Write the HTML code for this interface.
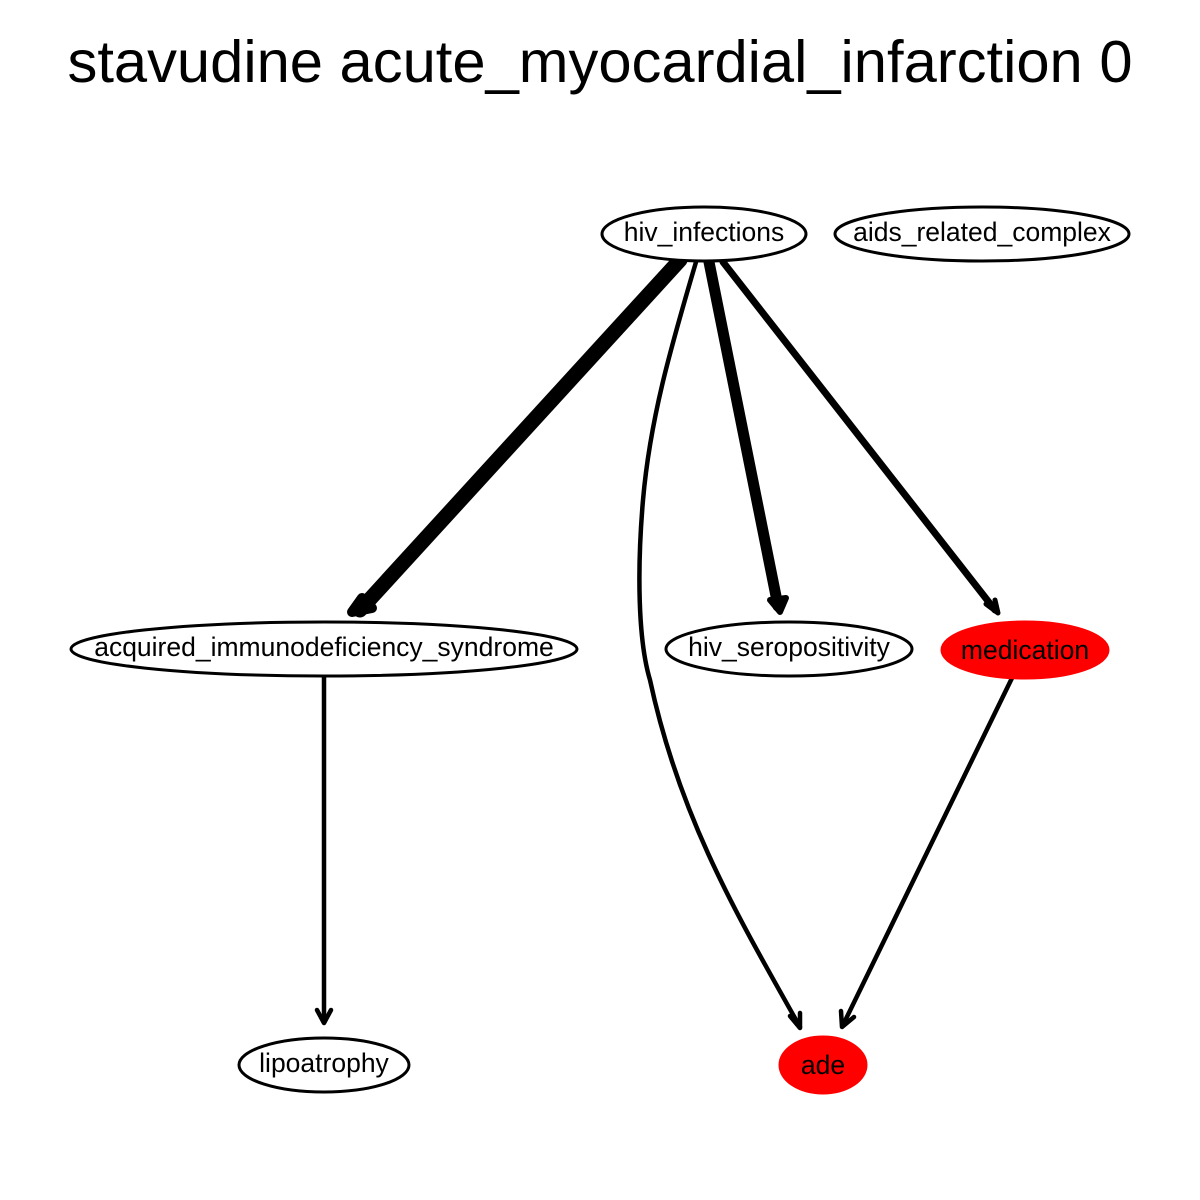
<!DOCTYPE html>
<html><head><style>body{margin:0;background:#fff}</style></head><body>
<svg width="1200" height="1200" xmlns="http://www.w3.org/2000/svg" style="display:block">
<rect width="1200" height="1200" fill="#fff"/>
<text x="600" y="82" text-anchor="middle" font-family="Liberation Sans, sans-serif" font-size="59.7">stavudine acute_myocardial_infarction 0</text>
<g stroke="#000" fill="none" stroke-linecap="round" stroke-linejoin="round">
<line x1="680" y1="260" x2="360" y2="610" stroke-width="15"/>
<path d="M352,612 L362,598 L372,608 Z" stroke-width="10" fill="#000"/>
<line x1="709" y1="262" x2="778" y2="606" stroke-width="11"/>
<path d="M770,600 L780,612 L786,598 Z" stroke-width="6" fill="#000"/>
<line x1="723" y1="262" x2="995" y2="610" stroke-width="7"/>
<path d="M986,604 L998,613 L995,600" stroke-width="5"/>
<path d="M696,262 C670,350 650,420 643,500 C637,570 638,640 650,680 C680,820 740,920 800,1027" stroke-width="4.5"/>
<path d="M790,1016 L800,1028 L800,1013" stroke-width="4.5"/>
<line x1="324" y1="677" x2="324" y2="1022" stroke-width="4.5"/>
<path d="M317,1010 L324,1023 L331,1010" stroke-width="4.5"/>
<line x1="1012" y1="678" x2="843" y2="1025" stroke-width="4.5"/>
<path d="M841,1011 L842,1027 L854,1017" stroke-width="4.5"/>
</g>
<g stroke="#000" stroke-width="3">
<ellipse cx="704" cy="234" rx="102" ry="27" fill="#fff"/>
<ellipse cx="982" cy="234" rx="147" ry="27" fill="#fff"/>
<ellipse cx="324" cy="649" rx="253" ry="27" fill="#fff"/>
<ellipse cx="789" cy="649" rx="123" ry="27" fill="#fff"/>
<ellipse cx="1025" cy="650" rx="83" ry="28" fill="#f00" stroke="#f00"/>
<ellipse cx="324" cy="1065" rx="85" ry="27" fill="#fff"/>
<ellipse cx="823" cy="1065" rx="43" ry="28" fill="#f00" stroke="#f00"/>
</g>
<g font-family="Liberation Sans, sans-serif" font-size="26.5" text-anchor="middle" fill="#000">
<text x="704" y="241">hiv_infections</text>
<text x="982" y="241">aids_related_complex</text>
<text x="324" y="656">acquired_immunodeficiency_syndrome</text>
<text x="789" y="656">hiv_seropositivity</text>
<text x="1025" y="659">medication</text>
<text x="324" y="1072">lipoatrophy</text>
<text x="823" y="1074">ade</text>
</g>
</svg>
</body></html>
